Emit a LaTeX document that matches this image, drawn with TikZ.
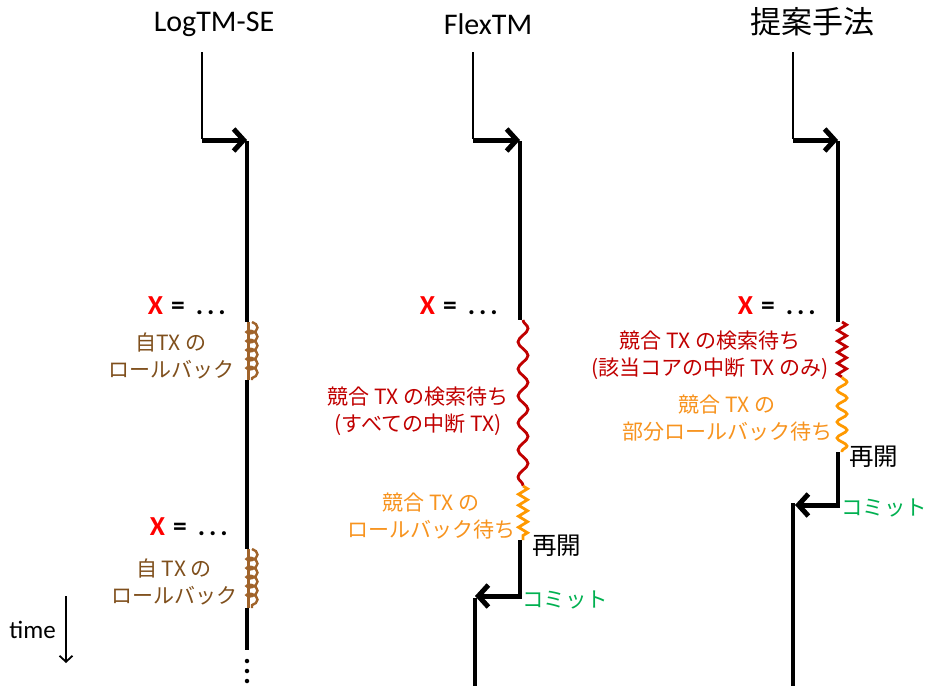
\documentclass[tikz,border=0pt]{standalone}
\usepackage{fontspec}
\setmainfont{Carlito}
\newfontfamily\jp{Noto Sans CJK JP}
\usetikzlibrary{arrows.meta,decorations.pathmorphing}
\definecolor{xred}{HTML}{FF0000}
\definecolor{lred}{HTML}{C00000}
\definecolor{lorange}{HTML}{FF9900}
\definecolor{torange}{HTML}{F7931E}
\definecolor{lbrown}{HTML}{A0632A}
\definecolor{tbrown}{HTML}{7F4F1C}
\definecolor{lgreen}{HTML}{00B050}
\newcommand{\xeqtext}{\textbf{\textcolor{xred}{X}\kern8pt=\kern11pt.\kern4pt.\kern4pt.}}
\tikzset{
  tline/.style={line width=3.3pt, black},
  stub/.style={line width=2.7pt, black},
  startarrow/.style={line width=5pt, black, -{Straight Barb[length=10pt,width=22pt]}},
  title/.style={font=\fontsize{30}{34}\selectfont, inner sep=0pt},
  jtitle/.style={font=\jp\fontsize{31}{34}\selectfont, inner sep=0pt},
  xeq/.style={font=\fontsize{27.5}{30}\selectfont, inner sep=0pt, anchor=east},
  lab/.style={font=\jp\fontsize{21}{27}\selectfont, align=center, inner sep=0pt},
  coilline/.style={lbrown, line width=2.4pt, decorate, decoration={coil, aspect=0.6, amplitude=5.5pt, segment length=9pt}},
  brownline/.style={lbrown, line width=2.6pt},
  redsnake/.style={lred, line width=2.8pt, decorate, decoration={snake, amplitude=5pt, segment length=27pt}},
  redzig/.style={lred, line width=2.8pt, decorate, decoration={zigzag, amplitude=4.5pt, segment length=11pt}},
  orzig/.style={lorange, line width=2.8pt, decorate, decoration={zigzag, amplitude=4.5pt, segment length=11pt}},
  orsnake/.style={lorange, line width=2.8pt, decorate, decoration={snake, amplitude=5pt, segment length=16pt}},
  dot/.style={circle, fill=black, inner sep=0pt, minimum size=4.5pt},
}
\begin{document}
\begin{tikzpicture}[x=1pt,y=-1pt]
\useasboundingbox (0,0) rectangle (926,686);

% ---------- LogTM-SE ----------
\node[title] (t1) at (214,24) {LogTM-SE};
\coordinate (a1) at (202,52);
\coordinate (b1) at (202,140);
\coordinate (m1) at (247,140);
\coordinate (c1a) at (247,322);
\coordinate (c1b) at (247,380);
\coordinate (c2a) at (247,549);
\coordinate (c2b) at (247,608);
\coordinate (e1) at (247,650);
\draw[stub] (a1) -- ([yshift=1.3pt]b1);
\draw[startarrow] (b1) -- (m1);
\draw[tline] ([yshift=-1.2pt]m1) -- (c1a);
\draw[tline] (c1b) -- (c2a);
\draw[tline] (c2b) -- (e1);
\draw[brownline] (248.5,322) -- (248.5,380);
\draw[coilline] (252,322) -- (252,380);
\draw[brownline] (248.5,549) -- (248.5,608);
\draw[coilline] (252,549) -- (252,608);
\node[dot] (d1) at (247,661) {};
\node[dot] (d2) at (247,671) {};
\node[dot] (d3) at (247,681) {};
\node[xeq] (x1) at (226,306) {\xeqtext};
\node[lab, text=tbrown] (l1) at (171,356) {自TX の\\ロールバック};
\node[xeq] (x2) at (228,527) {\xeqtext};
\node[lab, text=tbrown] (l2) at (174,582) {自 TX の\\ロールバック};

% ---------- FlexTM ----------
\node[title] (t2) at (488,24) {FlexTM};
\coordinate (a2) at (473,52);
\coordinate (b2) at (473,140);
\coordinate (m2) at (520,140);
\coordinate (r2a) at (520,320);
\coordinate (r2b) at (520,486);
\coordinate (o2b) at (520,540);
\coordinate (k2) at (520,596);
\coordinate (n2) at (475,596);
\coordinate (e2) at (475,686);
\draw[stub] (a2) -- ([yshift=1.3pt]b2);
\draw[startarrow] (b2) -- (m2);
\draw[tline] ([yshift=-1.2pt]m2) -- (r2a);
\draw[redsnake] (523,320) -- (523,486);
\draw[orzig] (523,486) -- (523,540);
\draw[tline] (o2b) -- (k2);
\draw[startarrow] ([xshift=1.6pt]k2) -- (n2);
\draw[tline] ([yshift=-1.6pt]n2) -- (e2);
\node[xeq] (x3) at (498,306) {\xeqtext};
\node[lab, text=lred] (l3) at (418,411) {競合 TX の検索待ち\\(すべての中断 TX)};
\node[lab, text=torange] (l4) at (431,516) {競合 TX の\\ロールバック待ち};
\node[lab, font=\jp\fontsize{24.5}{27}\selectfont, anchor=west] (r2) at (532,546) {再開};
\node[lab, font=\jp\fontsize{21.5}{27}\selectfont, text=lgreen, anchor=west] (k2l) at (522,600) {コミット};

% ---------- Proposed ----------
\node[jtitle] (t3) at (812,22) {提案手法};
\coordinate (a3) at (793,52);
\coordinate (b3) at (793,140);
\coordinate (m3) at (838,140);
\coordinate (r3a) at (838,322);
\coordinate (r3b) at (838,377);
\coordinate (o3b) at (838,452);
\coordinate (k3) at (838,505);
\coordinate (n3) at (795,505);
\coordinate (e3) at (793,686);
\draw[stub] (a3) -- ([yshift=1.3pt]b3);
\draw[startarrow] (b3) -- (m3);
\draw[tline] ([yshift=-1.2pt]m3) -- (r3a);
\draw[redzig] (842,322) -- (842,377);
\draw[orsnake] (842,377) -- (842,452);
\draw[tline] (o3b) -- (k3);
\draw[startarrow] ([xshift=1.6pt]k3) -- (n3);
\draw[tline] (793,503.4) -- (e3);
\node[xeq] (x4) at (816,306) {\xeqtext};
\node[lab, text=lred] (l5) at (710,355) {競合 TX の検索待ち\\(該当コアの中断 TX のみ)};
\node[lab, text=torange] (l6) at (727,418) {競合 TX の\\部分ロールバック待ち};
\node[lab, font=\jp\fontsize{24.5}{27}\selectfont, anchor=west] (r3) at (849,457) {再開};
\node[lab, font=\jp\fontsize{21.5}{27}\selectfont, text=lgreen, anchor=west] (k3l) at (841,508) {コミット};

% ---------- time ----------
\node[font=\fontsize{25}{28}\selectfont, inner sep=0pt, anchor=east] (tm) at (56,630) {time};
\coordinate (ta) at (66,596);
\coordinate (tb) at (66,663);
\draw[line width=1.8pt, -{Straight Barb[length=6pt,width=13pt]}] (ta) -- (tb);
\end{tikzpicture}
\end{document}
